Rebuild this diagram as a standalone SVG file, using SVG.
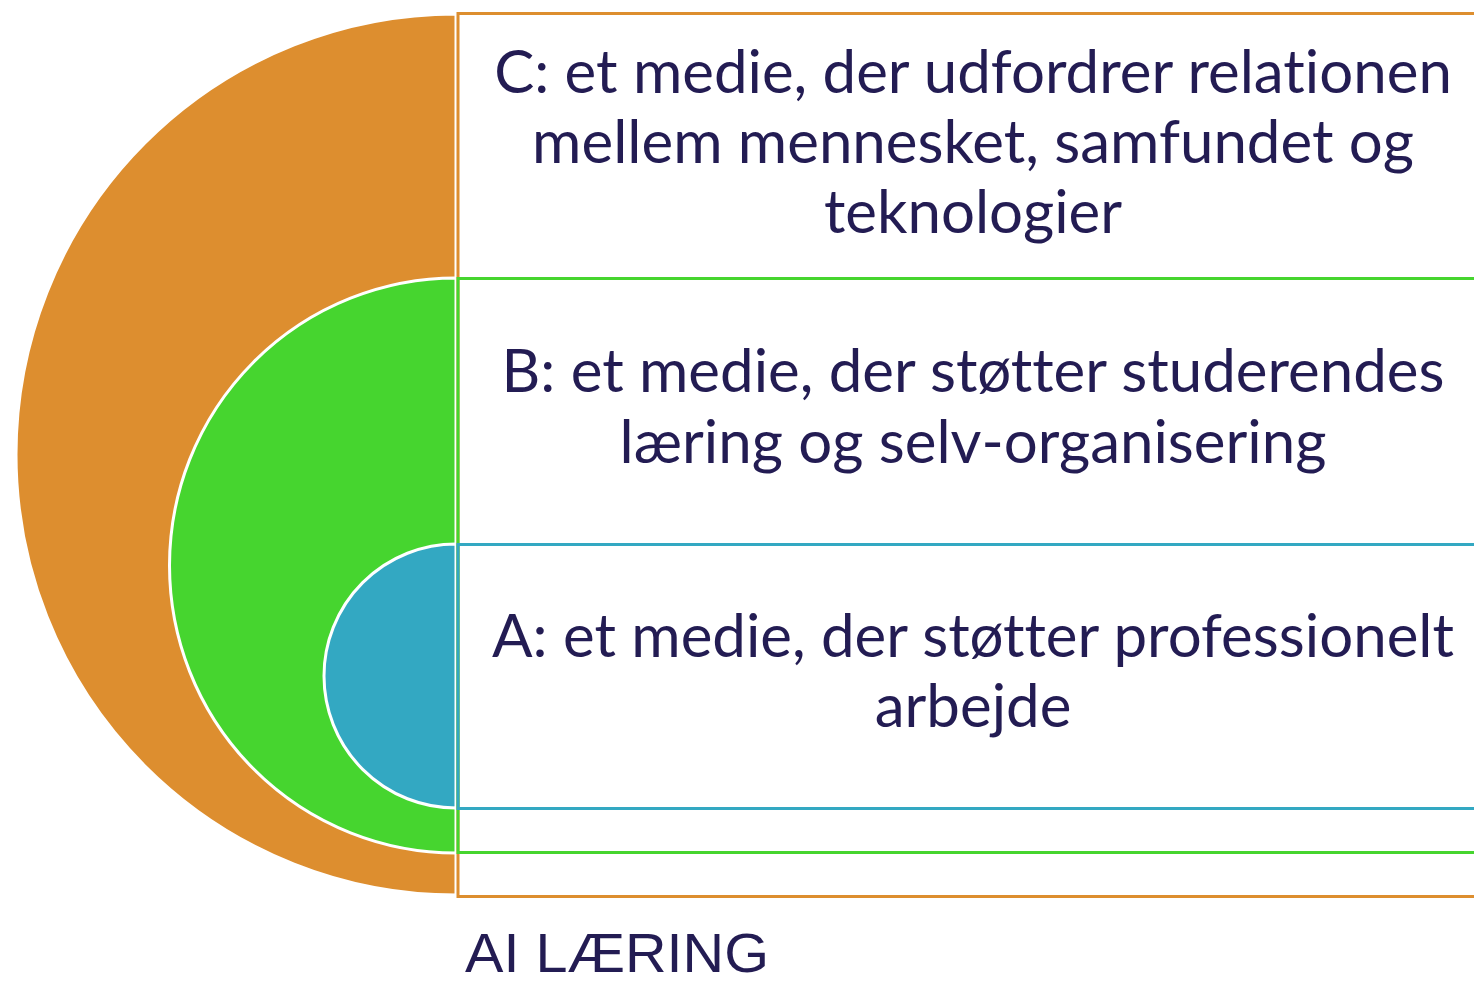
<svg xmlns="http://www.w3.org/2000/svg" width="1474" height="983" viewBox="0 0 1474 983">
<style>
.t{font-family:Lato,"Noto Sans",sans-serif;font-size:60px;fill:#231c53;text-anchor:middle;font-variant-ligatures:none}
.disk{stroke:#ffffff;stroke-width:3}
</style>
<rect width="1474" height="983" fill="#ffffff"/>
<g id="circle-c"><path class="disk" d="M456,14 A440,440.5 0 0 0 456,895 Z" fill="#dd8e2f"/></g>
<g id="circle-b"><path class="disk" d="M456,278 A286.5,287.5 0 0 0 456,853 Z" fill="#46d52f"/></g>
<g id="circle-a"><path class="disk" d="M456,544 A132,132 0 0 0 456,808 Z" fill="#33a8c2"/></g>
<g id="band-c"><rect x="458" y="13.5" width="1030" height="883" fill="none" stroke="#dd8e2f" stroke-width="3"/>
<text class="t" x="973" y="93">C: et medie, der udfordrer relationen</text>
<text class="t" x="973" y="163">mellem mennesket, samfundet og</text>
<text class="t" x="973" y="233">teknologier</text></g>
<g id="band-b"><rect x="458" y="278.5" width="1030" height="574" fill="none" stroke="#46d52f" stroke-width="3"/>
<text class="t" x="973" y="392">B: et medie, der støtter studerendes</text>
<text class="t" x="973" y="463">læring og selv-organisering</text></g>
<g id="band-a"><rect x="458" y="544.5" width="1030" height="264" fill="none" stroke="#33a8c2" stroke-width="3"/>
<text class="t" x="973" y="657">A: et medie, der støtter professionelt</text>
<text class="t" x="973" y="727">arbejde</text></g>
<g id="title"><text x="465" y="972" font-family="'Liberation Sans',Arial,sans-serif" font-size="56" fill="#231c53" textLength="304" lengthAdjust="spacingAndGlyphs">AI LÆRING</text></g>
</svg>
